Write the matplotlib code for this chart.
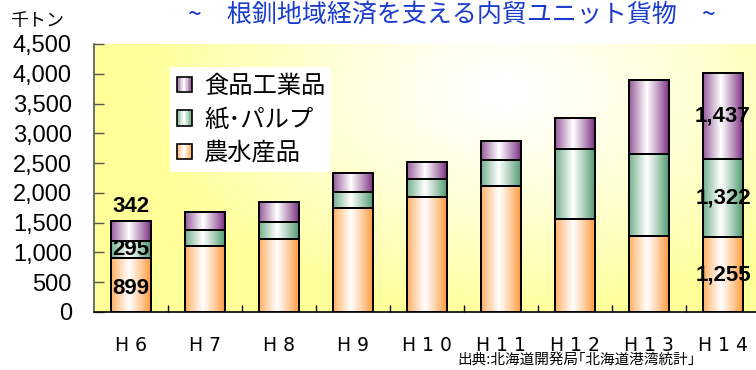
import numpy as np
import matplotlib
matplotlib.use("Agg")
import matplotlib.pyplot as plt
from matplotlib import font_manager
from matplotlib.patches import Rectangle
from matplotlib.legend_handler import HandlerBase
from matplotlib.colors import to_rgb

# ---------------- data ----------------
categories = ["H 6", "H 7", "H 8", "H 9", "H 1 0", "H 1 1", "H 1 2", "H 1 3", "H 1 4"]
agri = [899, 1106, 1219, 1746, 1932, 2122, 1561, 1275, 1255]      # 農水産品
paper = [295, 270, 291, 270, 297, 428, 1179, 1381, 1322]          # 紙・パルプ
food = [342, 298, 342, 325, 297, 325, 510, 1234, 1437]            # 食品工業品
series_names = ["農水産品", "紙･パルプ", "食品工業品"]
yticks = [0, 500, 1000, 1500, 2000, 2500, 3000, 3500, 4000, 4500]
title = "~　根釧地域経済を支える内貿ユニット貨物　~"
unit_label = "千トン"
source_text = "出典:北海道開発局｢北海道港湾統計｣"

# ---------------- fonts ----------------
avail = {f.name for f in font_manager.fontManager.ttflist}
CJK = ["Noto Sans CJK JP", "DejaVu Sans"]
ARIAL = ["Liberation Sans", "DejaVu Sans"]
NARROW = ["Liberation Sans Narrow"] if "Liberation Sans Narrow" in avail else ["DejaVu Sans"]
plt.rcParams["font.family"] = CJK

colors = ["#FF9A3C", "#4E9A6E", "#7A2D80"]

fig = plt.figure(figsize=(7.56, 3.70), dpi=100)
W, H = 756, 370
ax = fig.add_axes([94 / W, (H - 312) / H, 666 / W, 268 / H])

x = np.arange(len(categories))
ax.set_xlim(-0.5, len(categories) - 0.5)
ax.set_ylim(0, 4500)

# background gradient (radial, white centre -> yellow)
ny, nx = 200, 400
yy, xx = np.mgrid[0:1:ny * 1j, 0:1:nx * 1j]
d = np.sqrt(((xx - 0.62) / 0.55) ** 2 + ((yy - 0.82) / 0.85) ** 2)
t = np.clip(d, 0, 1) ** 1.3
yel = np.array(to_rgb("#FFFF99"))
bg = (1 - t)[..., None] * np.ones(3) + t[..., None] * yel
ax.imshow(bg, extent=[0, 1, 0, 1], transform=ax.transAxes, origin="lower",
          aspect="auto", zorder=0, interpolation="bilinear")


def grad_img(c):
    c = np.array(to_rgb(c))
    u = np.linspace(0, 1, 64)
    w = np.clip(1 - np.abs(u - 0.45) / 0.55, 0, 1) ** 0.9
    img = c[None, :] * (1 - w[:, None]) + np.ones(3)[None, :] * w[:, None]
    return img[None, :, :]


bottoms = np.zeros(len(categories))
bar_width = 0.53
for vals, col, name in zip([agri, paper, food], colors, series_names):
    bars = ax.bar(x, vals, bottom=bottoms, width=bar_width, facecolor=col,
                  edgecolor="black", linewidth=1.4, zorder=3, label=name)
    for p in bars.patches:
        x0, y0 = p.get_x(), p.get_y()
        im = ax.imshow(grad_img(col), extent=[x0, x0 + p.get_width(), y0, y0 + p.get_height()],
                       aspect="auto", zorder=3.5, interpolation="bilinear")
        im.set_clip_path(p)
        ax.add_patch(Rectangle((x0, y0), p.get_width(), p.get_height(), fill=False,
                               edgecolor="black", linewidth=1.4, zorder=4))
    bottoms = bottoms + np.array(vals)

ax.set_xlim(-0.5, len(categories) - 0.5)
ax.set_ylim(0, 4500)

# data labels
lab_kw = dict(ha="center", va="center", fontsize=16, fontweight="bold",
              family=ARIAL, zorder=6, color="black")
i = 0
ax.text(x[i], agri[i] / 2 - 60, f"{agri[i]:,}", **lab_kw)
ax.text(x[i], agri[i] + paper[i] / 2, f"{paper[i]:,}", **lab_kw)
ax.text(x[i], agri[i] + paper[i] + food[i] + 240, f"{food[i]:,}", **lab_kw)
i = len(categories) - 1
ax.text(x[i], agri[i] / 2, f"{agri[i]:,}", **lab_kw)
ax.text(x[i], agri[i] + paper[i] / 2, f"{paper[i]:,}", **lab_kw)
ax.text(x[i], agri[i] + paper[i] + food[i] / 2, f"{food[i]:,}", **lab_kw)

# axes styling
for s in ["top", "right"]:
    ax.spines[s].set_visible(False)
ax.spines["left"].set_color("#555555")
ax.spines["bottom"].set_color("black")
ax.spines["left"].set_linewidth(1.2)
ax.spines["bottom"].set_linewidth(1.2)

ax.set_yticks(yticks)
ax.set_yticklabels([f"{v:,}" for v in yticks], family=ARIAL, fontsize=17)
ax.tick_params(axis="y", direction="in", length=7, width=1, color="#555555", pad=16)

ax.set_xticks(x)
ax.set_xticklabels(categories, family=NARROW, fontsize=13.5)
ax.set_xticks(np.arange(0.5, len(categories) - 0.5, 1), minor=True)
ax.tick_params(axis="x", which="major", length=0, pad=17)
ax.tick_params(axis="x", which="minor", direction="in", length=5, width=1, color="black")


# legend with gradient swatches
class GradHandler(HandlerBase):
    def __init__(self, col):
        super().__init__()
        self.col = col

    def create_artists(self, legend, orig_handle, xdescent, ydescent, width, height, fontsize, trans):
        arts = []
        side = height * 0.9
        x0 = xdescent * -1 + (width - side) / 2
        y0 = -ydescent + (height - side) / 2
        img = grad_img(self.col)[0]
        n = 10
        for k in range(n):
            c = img[int((k + 0.5) / n * (len(img) - 1))]
            arts.append(Rectangle((x0 + k * side / n, y0), side / n, side, facecolor=c,
                                  edgecolor="none", transform=trans))
        arts.append(Rectangle((x0, y0), side, side, fill=False, edgecolor="black",
                              linewidth=1.2, transform=trans))
        return arts


handles = [Rectangle((0, 0), 1, 1, label=n) for n in series_names]
handler_map = {h: GradHandler(c) for h, c in zip(handles, colors)}
leg = ax.legend(handles[::-1], series_names[::-1], handler_map=handler_map,
                loc="upper left", bbox_to_anchor=(0.114, 0.914), borderaxespad=0,
                fancybox=False, framealpha=1, edgecolor="none", facecolor="white",
                prop={"family": CJK, "size": 17.5}, handlelength=0.7, handletextpad=0.45,
                labelspacing=0.3, borderpad=0.25)
leg.set_zorder(5)

# texts
fig.text(452 / W, 1 - 15 / H, title, ha="center", va="center", color="#1A3CCC",
         fontsize=18, family=CJK)
fig.text(10 / W, 1 - 21 / H, unit_label, ha="left", va="center", fontsize=13, family=CJK)
fig.text(695 / W, 1 - 361 / H, source_text, ha="right", va="center", fontsize=10.5, family=CJK)

fig.savefig("out.png", dpi=100)
